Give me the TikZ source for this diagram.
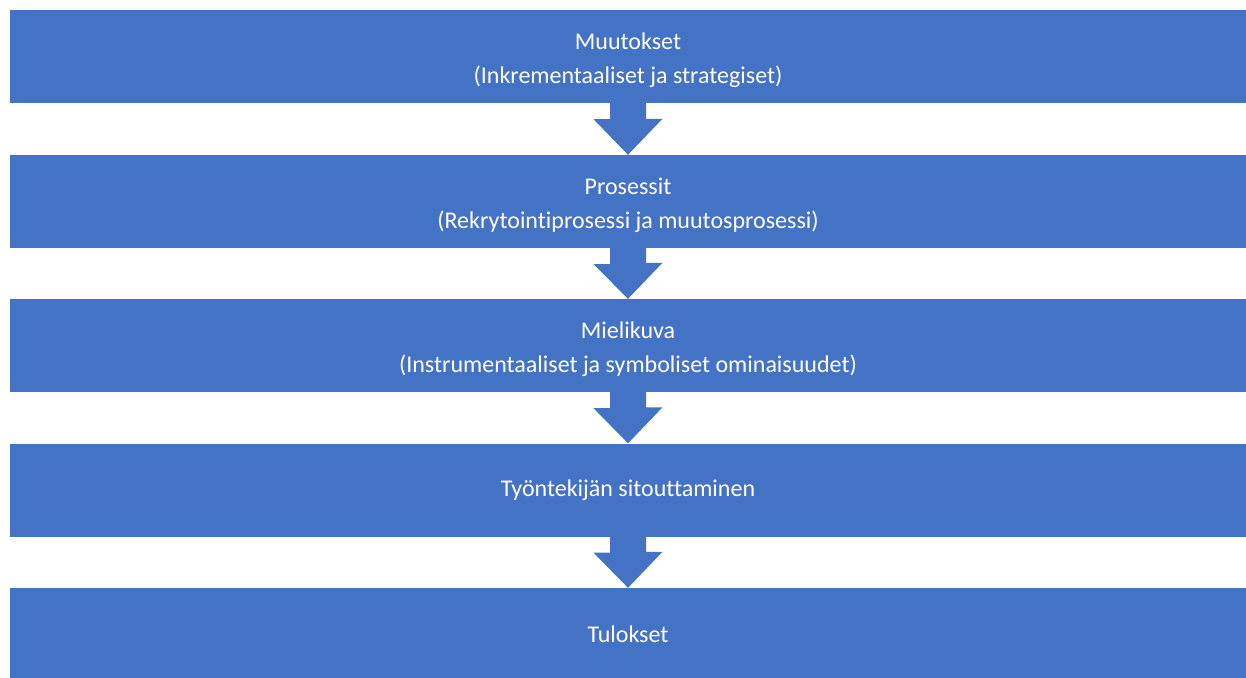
\documentclass[tikz,border=0pt]{standalone}
\usepackage{fontspec}
\setmainfont[Ligatures=CommonOff]{Carlito}
\definecolor{boxblue}{HTML}{4472C4}
\newcommand{\toppad}{\rule{0pt}{23.5pt}}
\begin{document}
\begin{tikzpicture}[x=1pt,y=-1pt,
  stagebox/.style={fill=boxblue, draw=none, minimum width=1236pt, minimum height=93pt,
    inner sep=0pt, text=white, align=center, font=\fontsize{24}{34}\selectfont},
  downarrow/.style={fill=boxblue, draw=none}]
\useasboundingbox (0,0) rectangle (1246,677);
\node[stagebox] (b1) at (628,56.5) {\toppad Muutokset\\(Inkrementaaliset ja strategiset)};
\node[stagebox] (b2) at (628,201.5) {\toppad Prosessit\\(Rekrytointiprosessi ja muutosprosessi)};
\node[stagebox] (b3) at (628,345.5) {\toppad Mielikuva\\(Instrumentaaliset ja symboliset ominaisuudet)};
\node[stagebox] (b4) at (628,490) {Työntekijän sitouttaminen};
\node[stagebox] (b5) at (628,634.5) {Tulokset};
\foreach \a/\b in {b1/b2,b2/b3,b3/b4,b4/b5}{
  \fill[downarrow] (\a.south) ++(-18,0) -- ++(0,16) -- ++(-16.5,0) -- (\b.north)
    -- ++(34.5,-36) -- ++(-16.5,0) -- ++(0,-16) -- cycle;
}
\end{tikzpicture}
\end{document}
